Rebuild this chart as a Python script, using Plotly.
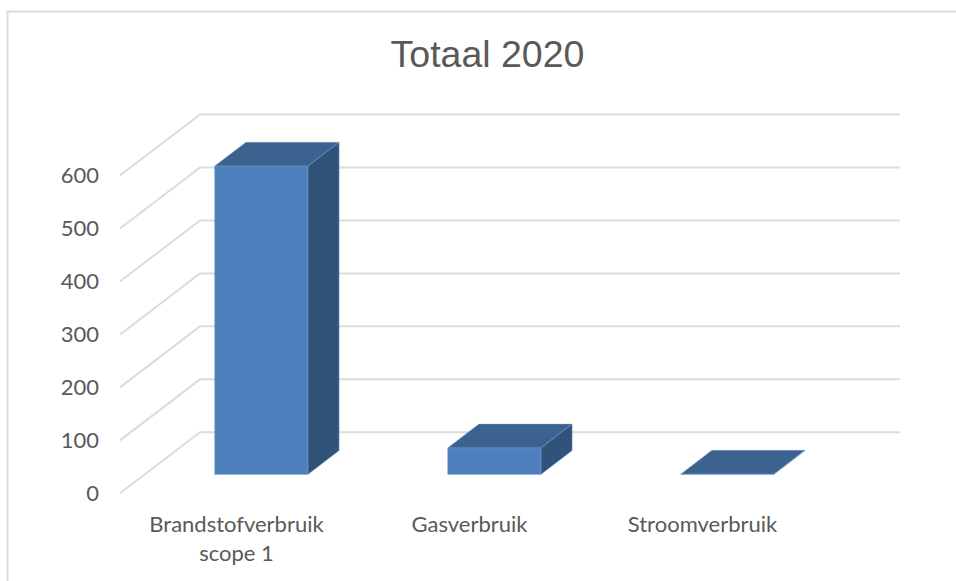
import plotly.graph_objects as go

title = "Totaal 2020"
categories = ["Brandstofverbruik<br>scope 1", "Gasverbruik", "Stroomverbruik"]
values = [582, 50, 0.5]
y_ticks = [0, 100, 200, 300, 400, 500, 600]

W, H = 956, 581
L, R, T, B = 120, 900, 100, 500
PX_PER_CAT = 233.0
PX_PER_VAL = 0.5297
Y0_PX = 493.3
DEPTH_X = 80 / PX_PER_CAT
DEPTH_Y = 61 / PX_PER_VAL
BAR_W = 0.4
D_FRONT, D_BACK = 0.31, 0.70
GRID_END = 2.504

GRID = "#dcdcdc"
TXT = "#595959"
FRONT = "#4e7fbc"
SIDE = "#325379"
TOP = "#3c6290"
EDGE = "rgba(120,160,215,0.55)"


def pr(cat, val, depth):
    return cat + depth * DEPTH_X, val + depth * DEPTH_Y


fig = go.Figure()

# Gridlines: side wall then back wall
gx, gy = [], []
for v in y_ticks:
    for c, d in [(-0.5, 0), (-0.5, 1), (GRID_END, 1)]:
        x, y = pr(c, v, d)
        gx.append(x)
        gy.append(y)
    gx.append(None)
    gy.append(None)
fig.add_trace(go.Scatter(x=gx, y=gy, mode="lines", line=dict(color=GRID, width=2),
                         hoverinfo="skip", showlegend=False))


def poly(points, color):
    xs, ys = zip(*points)
    fig.add_trace(go.Scatter(x=list(xs) + [xs[0]], y=list(ys) + [ys[0]], mode="lines",
                             fill="toself", fillcolor=color,
                             line=dict(color=EDGE, width=0.8),
                             hoverinfo="skip", showlegend=False))


for i, v in enumerate(values):
    a, b = i - BAR_W / 2, i + BAR_W / 2
    poly([pr(a, v, D_FRONT), pr(b, v, D_FRONT), pr(b, v, D_BACK), pr(a, v, D_BACK)], TOP)
    poly([pr(b, 0, D_FRONT), pr(b, 0, D_BACK), pr(b, v, D_BACK), pr(b, v, D_FRONT)], SIDE)
    poly([pr(a, 0, D_FRONT), pr(b, 0, D_FRONT), pr(b, v, D_FRONT), pr(a, v, D_FRONT)], FRONT)

fr = (R - L)
x_lo = -0.5
x_hi = x_lo + fr / PX_PER_CAT
y_lo = (Y0_PX - B) / PX_PER_VAL
y_hi = (Y0_PX - T) / PX_PER_VAL

fig.update_layout(
    width=W, height=H,
    margin=dict(l=L, r=W - R, t=T, b=H - B, pad=0),
    paper_bgcolor="white", plot_bgcolor="white",
    showlegend=False,
    font=dict(family="Lato", color=TXT, size=22),
    title=dict(text=title, x=487.5 / W, xanchor="center", y=1 - 54 / H, yanchor="middle",
               font=dict(family="Liberation Sans", size=37.5, color=TXT)),
    xaxis=dict(range=[x_lo, x_hi], tickmode="array", tickvals=list(range(len(categories))),
               ticktext=categories, showgrid=False, zeroline=False, showline=False,
               ticks="", ticklabelstandoff=9, fixedrange=True),
    yaxis=dict(range=[y_lo, y_hi], tickmode="array", tickvals=y_ticks,
               ticktext=[str(v) for v in y_ticks], showgrid=False, zeroline=False,
               showline=False, ticks="", ticklabelstandoff=20, fixedrange=True),
    shapes=[
        dict(type="line", xref="paper", yref="paper",
             x0=(7.5 - L) / fr, x1=(7.5 - L) / fr,
             y0=(B - 11.5) / (B - T), y1=(B - H) / (B - T),
             line=dict(color=GRID, width=2)),
        dict(type="line", xref="paper", yref="paper",
             x0=(6.5 - L) / fr, x1=(W - L) / fr,
             y0=(B - 11.5) / (B - T), y1=(B - 11.5) / (B - T),
             line=dict(color=GRID, width=2)),
    ],
)

fig.write_html("out.html", post_script="document.body.style.margin='0';document.body.style.overflow='hidden';",
               config={"displayModeBar": False})
